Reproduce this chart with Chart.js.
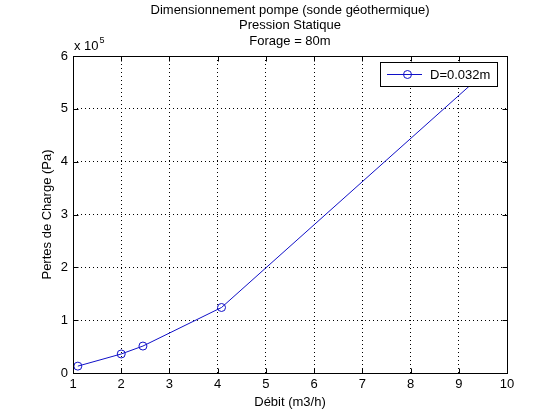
<!DOCTYPE html>
<html><head><meta charset="utf-8">
<script src="https://cdn.jsdelivr.net/npm/chart.js@4"></script>
<style>html,body{margin:0;padding:0;background:#fff}</style>
</head><body>
<canvas id="c" width="560" height="420"></canvas>
<script>
const debit = [1.1, 2.0, 2.45, 4.08, 9.5];
const pertes = [13000, 36000, 51000, 124000, 566000];
const titleLines = ['Dimensionnement pompe (sonde géothermique)', 'Pression Statique', 'Forage = 80m'];
const seriesLabel = 'D=0.032m';
const xTickValues = [1, 2, 3, 4, 5, 6, 7, 8, 9, 10];
const yTickValues = [0, 1, 2, 3, 4, 5, 6];
const yExponent = 5;
const xTitle = 'Débit (m3/h)';
const yTitle = 'Pertes de Charge (Pa)';

const FONT = '"Liberation Sans", Arial, Helvetica, sans-serif';
const LINE = '#1010c8';

const matlab = {
  id: 'matlab',
  afterDraw(chart) {
    const {ctx, chartArea: ca, scales: {x, y}} = chart;
    const L = Math.round(ca.left) + 0.5, R = Math.round(ca.right) + 0.5;
    const T = Math.round(ca.top) + 0.5, B = Math.round(ca.bottom) + 0.5;
    ctx.save();
    ctx.strokeStyle = '#000'; ctx.lineWidth = 1;
    ctx.strokeRect(L, T, R - L, B - T);
    const tl = 5;
    ctx.beginPath();
    xTickValues.forEach(v => {
      const px = Math.round(x.getPixelForValue(v)) + 0.5;
      ctx.moveTo(px, B); ctx.lineTo(px, B - tl);
      ctx.moveTo(px, T); ctx.lineTo(px, T + tl);
    });
    yTickValues.forEach(v => {
      const py = Math.round(y.getPixelForValue(v * Math.pow(10, yExponent))) + 0.5;
      ctx.moveTo(L, py); ctx.lineTo(L + tl, py);
      ctx.moveTo(R, py); ctx.lineTo(R - tl, py);
    });
    ctx.stroke();
    // title
    ctx.fillStyle = '#000';
    ctx.font = '13px ' + FONT;
    ctx.textAlign = 'center'; ctx.textBaseline = 'middle';
    titleLines.forEach((t, i) => ctx.fillText(t, (ca.left + ca.right) / 2, 10 + i * 15.5));
    // exponent
    ctx.textAlign = 'left'; ctx.textBaseline = 'alphabetic';
    ctx.font = '13px ' + FONT;
    ctx.fillText('x 10', 74, 50);
    const w = ctx.measureText('x 10').width;
    ctx.font = '9px ' + FONT;
    ctx.fillText(String(yExponent), 74 + w + 1, 43);
    // legend
    const lx = 380.5, ly = 62.5, lw = 117, lh = 24;
    ctx.fillStyle = '#fff';
    ctx.fillRect(lx, ly, lw, lh);
    ctx.strokeStyle = '#000';
    ctx.strokeRect(lx, ly, lw, lh);
    const my = ly + lh / 2;
    ctx.strokeStyle = LINE;
    ctx.beginPath(); ctx.moveTo(387, my); ctx.lineTo(422, my); ctx.stroke();
    ctx.beginPath(); ctx.arc(407.5, my, 4, 0, Math.PI * 2); ctx.stroke();
    ctx.fillStyle = '#000';
    ctx.font = '13px ' + FONT;
    ctx.textBaseline = 'middle';
    ctx.fillText(chart.data.datasets[0].label, 430, my + 1);
    ctx.restore();
  }
};

new Chart(document.getElementById('c'), {
  type: 'scatter',
  data: {
    datasets: [{
      label: seriesLabel,
      data: debit.map((d, i) => ({x: d, y: pertes[i]})),
      showLine: true,
      borderColor: LINE,
      borderWidth: 1,
      pointStyle: 'circle',
      pointRadius: 4,
      pointBorderWidth: 1,
      pointBorderColor: LINE,
      pointBackgroundColor: 'rgba(0,0,0,0)',
      tension: 0
    }]
  },
  options: {
    responsive: false,
    animation: false,
    layout: {padding: {left: 0, right: 53, top: 56, bottom: 0}},
    plugins: {legend: {display: false}, title: {display: false}, tooltip: {enabled: false}},
    scales: {
      x: {
        type: 'linear', min: 1, max: 10,
        afterFit: s => { s.height = 47; },
        afterBuildTicks: s => { s.ticks = xTickValues.map(v => ({value: v})); },
        ticks: {color: '#000', font: {family: FONT, size: 13}, padding: 4, maxRotation: 0},
        grid: {color: '#000', lineWidth: 1, drawTicks: false},
        border: {display: false, dash: [1, 3]},
        title: {display: true, text: xTitle, color: '#000', font: {family: FONT, size: 13}, padding: {top: 0, bottom: 10}}
      },
      y: {
        type: 'linear', min: 0, max: 6e5,
        afterFit: s => { s.width = 73; },
        afterBuildTicks: s => { s.ticks = yTickValues.map(v => ({value: v * Math.pow(10, yExponent)})); },
        ticks: {color: '#000', font: {family: FONT, size: 13}, padding: 5,
          callback: v => String(Math.round(v / Math.pow(10, yExponent)))},
        grid: {color: '#000', lineWidth: 1, drawTicks: false},
        border: {display: false, dash: [1, 3]},
        title: {display: true, text: yTitle, color: '#000', font: {family: FONT, size: 13}, padding: {top: 40, bottom: 0}}
      }
    }
  },
  plugins: [matlab]
});
</script>
</body></html>
